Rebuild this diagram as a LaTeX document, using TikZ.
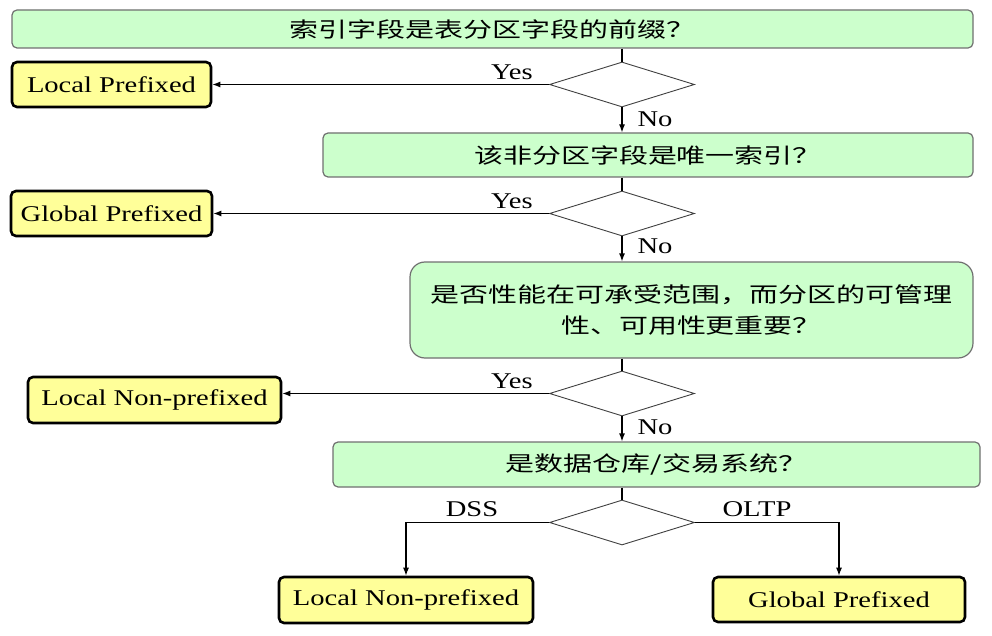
\documentclass[tikz,border=0pt]{standalone}
\usepackage{fontspec}
\setmainfont{Liberation Serif}[FakeStretch=1.27]
\newfontfamily\cjk{Noto Sans CJK SC}[FakeStretch=1.38]
\usetikzlibrary{shapes.geometric,arrows.meta}
\definecolor{qgreen}{HTML}{CCFFCC}
\definecolor{ryellow}{HTML}{FFFF99}
\definecolor{qborder}{HTML}{707070}
\tikzset{
  qbox/.style={draw=qborder, fill=qgreen, rounded corners=5pt, line width=1.2pt, inner sep=0pt,
    font=\cjk\fontsize{21}{31}\selectfont, align=center},
  rbox/.style={draw=black, fill=ryellow, rounded corners=5pt, line width=2.6pt, inner sep=0pt,
    font=\fontsize{22.5}{26}\selectfont},
  dec/.style={diamond, draw=black!75, line width=0.9pt, fill=white, minimum width=145pt,
    minimum height=45pt, inner sep=0pt},
  arr/.style={-{Latex[length=8pt,width=6pt]}, line width=1.2pt},
  ln/.style={line width=1.2pt},
  lbl/.style={font=\fontsize{22.5}{26}\selectfont, inner sep=0pt}
}
\begin{document}
\begin{tikzpicture}[x=1pt,y=-1pt]
\useasboundingbox (0,0) rectangle (992,636);
% question boxes
\node[qbox, minimum width=961pt, minimum height=38pt] (b1) at (492.5,29) {索引字段是表分区字段的前缀？};
\node[qbox, minimum width=650pt, minimum height=44pt] (b2) at (648,155) {该非分区字段是唯一索引？};
\node[qbox, rounded corners=15pt, minimum width=563pt, minimum height=96pt] (b3) at (691.5,310)
  {是否性能在可承受范围，而分区的可管理\\性、可用性更重要？};
\node[qbox, minimum width=647pt, minimum height=45pt] (b4) at (656.5,464.5) {是数据仓库/交易系统？};
% decisions
\node[dec] (d1) at (622,84.5) {};
\node[dec] (d2) at (622,213.5) {};
\node[dec] (d3) at (622,393.5) {};
\node[dec] (d4) at (622,522.5) {};
% results
\node[rbox, minimum width=199pt, minimum height=45pt] (lp1) at (111.5,84.5) {Local Prefixed};
\node[rbox, minimum width=201pt, minimum height=45pt] (gp1) at (111.5,213.5) {Global Prefixed};
\node[rbox, minimum width=253pt, minimum height=46pt] (lnp1) at (154.5,400) {Local Non-prefixed};
\node[rbox, minimum width=254pt, minimum height=46pt] (lnp2) at (406,600) {Local Non-prefixed};
\node[rbox, minimum width=252pt, minimum height=45pt] (gp2) at (839,599.5) {Global Prefixed};
% connectors
\draw[ln] (d1.north |- b1.south) -- (d1.north);
\draw[arr] (d1.west) -- (d1.west -| lp1.east);
\draw[arr] (d1.south) -- (d1.south |- b2.north);
\draw[ln] (d2.north |- b2.south) -- (d2.north);
\draw[arr] (d2.west) -- (d2.west -| gp1.east);
\draw[arr] (d2.south) -- (d2.south |- b3.north);
\draw[ln] (d3.north |- b3.south) -- (d3.north);
\draw[arr] (d3.west) -- (d3.west -| lnp1.east);
\draw[arr] (d3.south) -- (d3.south |- b4.north);
\draw[ln] (d4.north |- b4.south) -- (d4.north);
\draw[arr] (d4.west) -| (lnp2.north);
\draw[arr] (d4.east) -| (gp2.north);
% labels
\node[lbl] (y1) at (512,72) {Yes};
\node[lbl] (y2) at (512,201) {Yes};
\node[lbl] (y3) at (512,381) {Yes};
\node[lbl] (n1) at (655,119) {No};
\node[lbl] (n2) at (655,246) {No};
\node[lbl] (n3) at (655,427) {No};
\node[lbl] (dss) at (472,509) {DSS};
\node[lbl] (oltp) at (757,509) {OLTP};
\end{tikzpicture}
\end{document}
